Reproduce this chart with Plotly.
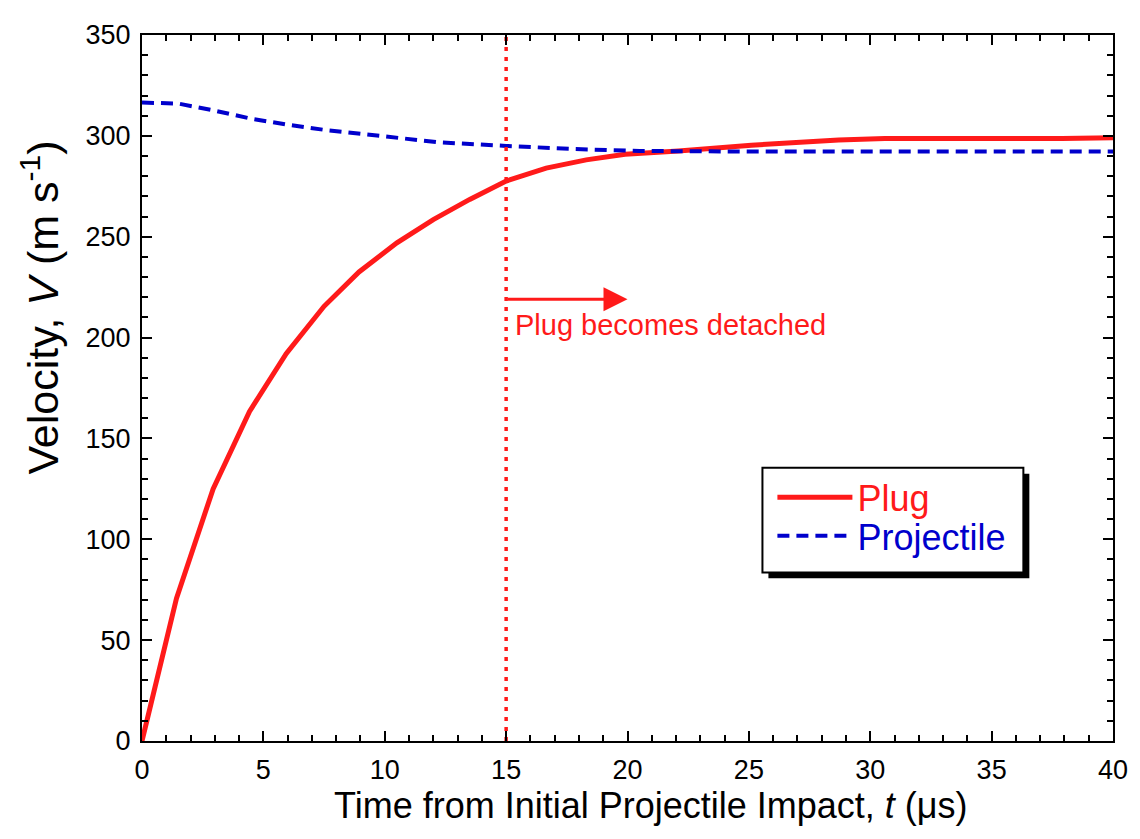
import plotly.graph_objects as go

# Data
plug_t = [0, 1.42, 2.93, 4.43, 5.94, 7.5, 8.94, 10.5, 12, 13.5, 15, 16.65, 18.3, 19.9, 22.1, 25.1, 28.7, 30.6, 37.9, 40]
plug_v = [0, 70.7, 125, 163.4, 192, 215.5, 232.5, 247, 258.5, 268.5, 277.6, 284, 288.1, 290.9, 292.5, 295.4, 297.9, 298.7, 298.7, 299]

proj_t = [0, 1.5, 3, 4.5, 6, 7.5, 9, 10.5, 12.25, 15, 17.75, 20.5, 25, 40]
proj_v = [316.5, 316, 312.5, 308.5, 305.5, 303, 301, 299, 296.8, 295, 293.5, 292.5, 292.2, 292.2]

detach_t = 15
arrow_v = 219
arrow_end_t = 20
y_range = [0, 350]
x_range = [0, 40]

RED = "#ff1a1a"
BLUE = "#0000cc"
FONT = "Liberation Sans, Arial"

# page offset of the plot div (body margin)
OFF = 8
PL, PR, PT, PB = 142, 1117, 25, 741  # plot area in page pixels
W, H = 1140 - OFF, 839 - OFF

def px_x(p):
    return (p - PL) / (PR - PL)

def px_y(p):
    return (PB - p) / (PB - PT)

fig = go.Figure()
fig.add_trace(go.Scatter(x=plug_t, y=plug_v, mode="lines", line=dict(color=RED, width=5),
                         name="<span style='color:#ff1a1a'>Plug</span>", legend="legend"))
fig.add_trace(go.Scatter(x=proj_t, y=proj_v, mode="lines",
                         line=dict(color=BLUE, width=4, dash="12px,7px"),
                         name="<span style='color:#0000cc'>Projectile</span>", legend="legend2"))

# vertical dotted line
fig.add_trace(go.Scatter(x=[detach_t, detach_t], y=y_range, mode="lines",
                         line=dict(color=RED, width=3.5, dash="4px,6px"), showlegend=False))

fig.add_annotation(x=arrow_end_t, y=arrow_v, ax=detach_t, ay=arrow_v, xref="x", yref="y",
                   axref="x", ayref="y", showarrow=True, arrowhead=2, arrowsize=1.6,
                   arrowwidth=3, arrowcolor=RED, text="")
fig.add_annotation(x=detach_t + 0.3, y=206, xref="x", yref="y", text="Plug becomes detached",
                   showarrow=False, xanchor="left", yanchor="middle",
                   font=dict(color=RED, size=29, family=FONT))

# axis titles
fig.add_annotation(x=px_x(653), y=px_y(806), xref="paper", yref="paper",
                   text="Time from Initial Projectile Impact, <i>t</i> (μs)", showarrow=False,
                   xanchor="center", yanchor="middle",
                   font=dict(size=36, family=FONT, color="black"))
fig.add_annotation(x=px_x(40), y=px_y(301), xref="paper", yref="paper", textangle=-90,
                   text="Velocity, <i>V</i> (m s<sup>-1</sup>)", showarrow=False,
                   xanchor="center", yanchor="middle",
                   font=dict(size=43, family=FONT, color="black"))

# legend box with shadow
fig.add_shape(type="rect", xref="paper", yref="paper",
              x0=px_x(771), x1=px_x(1033), y0=px_y(576), y1=px_y(470),
              fillcolor="black", line=dict(width=0), layer="above")
fig.add_shape(type="rect", xref="paper", yref="paper",
              x0=px_x(765), x1=px_x(1027), y0=px_y(570), y1=px_y(464),
              fillcolor="white", line=dict(width=2, color="black"), layer="above")

axis_common = dict(showline=True, linecolor="black", linewidth=2, mirror="allticks",
                   ticks="inside", ticklen=10, tickwidth=2, tickcolor="black",
                   showgrid=False, zeroline=False, ticklabelstandoff=4,
                   tickfont=dict(size=27, family=FONT, color="black"))

leg_common = dict(xanchor="left", yanchor="middle", bgcolor="rgba(0,0,0,0)", borderwidth=0,
                  font=dict(size=36, family=FONT), itemwidth=75)

fig.update_layout(
    width=W, height=H,
    margin=dict(l=PL - OFF, r=(W + OFF) - PR, t=PT - OFF, b=(H + OFF) - PB),
    plot_bgcolor="white", paper_bgcolor="white",
    xaxis=dict(range=x_range, dtick=5, **axis_common,
               minor=dict(dtick=1, ticks="inside", ticklen=6, tickwidth=2, tickcolor="black")),
    yaxis=dict(range=y_range, dtick=50, **axis_common,
               minor=dict(dtick=10, ticks="inside", ticklen=6, tickwidth=2, tickcolor="black")),
    legend=dict(x=px_x(775), y=px_y(494), **leg_common),
    legend2=dict(x=px_x(775), y=px_y(533), **leg_common),
    showlegend=True,
)

fig.write_html("out.html")
